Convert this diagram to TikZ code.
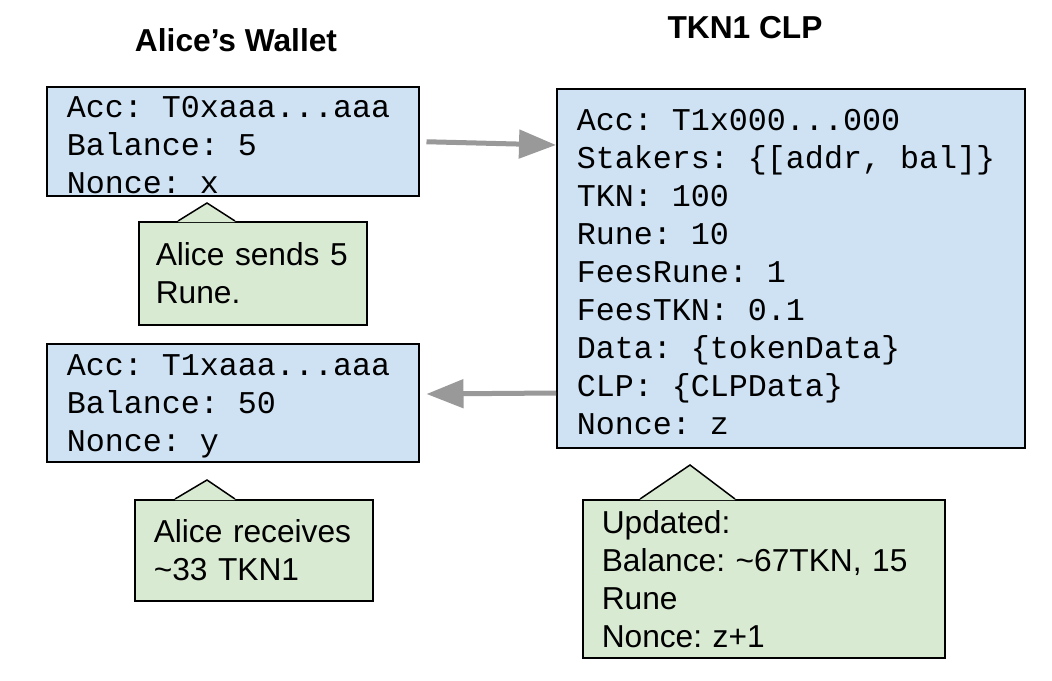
\documentclass[tikz,border=0pt]{standalone}
\usepackage{fontspec}
\setmainfont{Liberation Sans}
\setmonofont{Liberation Mono}[WordSpace={1,0,0}]
\usetikzlibrary{arrows.meta}

\definecolor{acctblue}{HTML}{CFE2F3}
\definecolor{notegreen}{HTML}{D9EAD3}
\definecolor{flowgray}{HTML}{999999}

% one cell of the mono font for every space, and a taller first line
\newcommand{\firstline}{\spaceskip\fontcharwd\font`\M\relax\xspaceskip\spaceskip\rule{0pt}{29pt}}

\tikzset{
  acct/.style={draw=black, line width=1.5pt, fill=acctblue, anchor=north west,
    inner xsep=20pt, inner ysep=0pt, align=left,
    font=\ttfamily\frenchspacing\fontsize{31.7}{38}\selectfont},
  note/.style={draw=black, line width=1.5pt, fill=notegreen, anchor=north west,
    inner ysep=0pt, align=left, font=\frenchspacing\fontsize{31.7}{38}\selectfont},
  heading/.style={font=\bfseries\fontsize{31.7}{38}\selectfont},
  flow/.style={draw=flowgray, line width=5pt, -{Triangle[length=37pt,width=28pt]}}
}

\begin{document}
\begin{tikzpicture}[x=1pt, y=-1pt]
		\fill[white] (0, 0) rectangle (1052, 680);

		% titles
		\node[heading] (wallettitle) at (236, 40) {Alice’s Wallet};
		\node[heading] (clptitle) at (745, 28) {TKN1 CLP};

		% accounts
		\node[acct, text width=332pt, minimum height=109pt] (w1) at (46, 86)
			{\firstline Acc: T0xaaa...aaa\\Balance: 5\\Nonce: x};
		\node[acct, text width=332pt, minimum height=118pt] (w2) at (46, 343)
			{\firstline Acc: T1xaaa...aaa\\Balance: 50\\Nonce: y};
		\node[acct, text width=428pt, minimum height=359pt] (clp) at (556, 88)
			{\firstline Acc: T1x000...000\\Stakers: \{[addr, bal]\}\\TKN: 100\\Rune: 10\\FeesRune: 1\\FeesTKN: 0.1\\Data: \{tokenData\}\\CLP: \{CLPData\}\\Nonce: z};

		% notes
		\node[note, inner xsep=17pt, text width=194pt, minimum height=103pt] (n1) at (138, 221)
			{Alice sends 5\\Rune.};
		\node[note, inner xsep=19pt, text width=200pt, minimum height=101pt] (n2) at (134, 499)
			{Alice receives\\\textasciitilde33 TKN1};
		\node[note, inner xsep=19pt, text width=324pt, minimum height=158pt] (n3) at (582, 499)
			{Updated:\\Balance: \textasciitilde67TKN, 15\\Rune\\Nonce: z+1};

		% pointers of the notes
		\coordinate (n1l) at ([xshift=40pt]n1.north west);
		\coordinate (n1t) at ([xshift=69pt, yshift=18pt]n1.north west);
		\coordinate (n1r) at ([xshift=97pt]n1.north west);
		\coordinate (n2l) at ([xshift=41pt]n2.north west);
		\coordinate (n2t) at ([xshift=73pt, yshift=19pt]n2.north west);
		\coordinate (n2r) at ([xshift=101pt]n2.north west);
		\coordinate (n3l) at ([xshift=58pt]n3.north west);
		\coordinate (n3t) at ([xshift=108pt, yshift=34pt]n3.north west);
		\coordinate (n3r) at ([xshift=153pt]n3.north west);
		\foreach \n in {n1, n2, n3} {
			\fill[notegreen] (\n l) -- (\n t) -- (\n r) -- ([yshift=-1.2pt]\n r) -- ([yshift=-1.2pt]\n l) -- cycle;
			\draw[line width=1.5pt] (\n l) -- (\n t) -- (\n r);
		}

		% transfers
		\coordinate (send) at ([xshift=7pt, yshift=-0.5pt]w1.east);
		\coordinate (sendend) at (clp.west |- 0, 145);
		\coordinate (back) at (clp.west |- 0, 393);
		\coordinate (backend) at ([xshift=7pt]w2.east |- 0, 394);
		\draw[flow] (send) -- (sendend);
		\draw[flow] (back) -- (backend);
	\end{tikzpicture}
\end{document}
